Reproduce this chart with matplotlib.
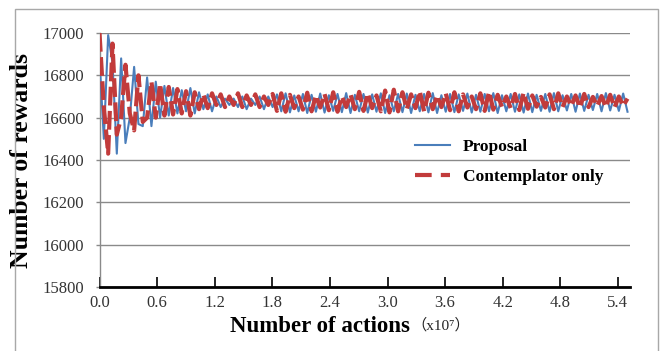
import numpy as np
import matplotlib
matplotlib.use("Agg")
import matplotlib.pyplot as plt
from matplotlib.patches import Rectangle

# ---- data (rewards) ----
proposal = [
    16880, 16500, 16990, 16860, 16430, 16880, 16480, 16600, 16840, 16570, 16560, 16790,
    16560, 16770, 16600, 16750, 16610, 16740, 16620, 16730, 16630, 16740, 16620, 16720, 16640, 16710, 16630,
    16700, 16650, 16690, 16660, 16690, 16650, 16700, 16640, 16690, 16660, 16700, 16640, 16700, 16650,
    16710, 16630, 16715, 16625, 16705, 16630, 16712, 16622, 16708, 16628,
    16714, 16624, 16706, 16632, 16712, 16626, 16716, 16622, 16708, 16630,
    16712, 16624, 16710, 16628, 16715, 16622, 16706, 16630, 16712, 16626,
    16714, 16622, 16708, 16630, 16712, 16625, 16716, 16622, 16706, 16628,
    16712, 16626, 16710, 16632, 16714, 16624, 16708, 16628, 16712, 16630,
    16716, 16622, 16706, 16630, 16712, 16628, 16710, 16624, 16714, 16626,
    16708, 16632, 16712, 16628, 16716, 16630, 16706, 16634, 16712, 16628,
    16714, 16632, 16708, 16636, 16712, 16630, 16716, 16634, 16708, 16632,
    16714, 16628,
]
contemplator = [
    17000, 16650, 16430, 16950, 16520, 16600, 16850, 16620, 16540, 16800, 16580, 16600,
    16770, 16600, 16760, 16610, 16745, 16615, 16735, 16620, 16725, 16610, 16720, 16640, 16710, 16645, 16715,
    16660, 16710, 16650, 16700, 16660, 16715, 16650, 16705, 16660, 16710, 16650, 16700, 16660, 16712,
    16632, 16715, 16628, 16708, 16645, 16700, 16638, 16718, 16630, 16705,
    16648, 16712, 16635, 16720, 16628, 16700, 16650, 16710, 16640, 16722,
    16632, 16715, 16645, 16705, 16630, 16728, 16625, 16732, 16630, 16720,
    16640, 16710, 16645, 16725, 16630, 16718, 16640, 16705, 16650, 16715,
    16635, 16720, 16630, 16710, 16648, 16700, 16640, 16715, 16632, 16722,
    16638, 16708, 16650, 16700, 16645, 16712, 16636, 16718, 16642, 16705,
    16652, 16698, 16648, 16710, 16640, 16715, 16650, 16700, 16655, 16705,
    16648, 16712, 16650, 16698, 16655, 16702, 16650, 16708, 16648, 16700,
    16655, 16690,
]
x_end = 5.50  # last sample, x10^7 actions
x_ticks = [0.0, 0.6, 1.2, 1.8, 2.4, 3.0, 3.6, 4.2, 4.8, 5.4]
x_tick_labels = ["0.0", "0.6", "1.2", "1.8", "2.4", "3.0", "3.6", "4.2", "4.8", "5.4"]
y_ticks = [15800, 16000, 16200, 16400, 16600, 16800, 17000]
series_names = ["Proposal", "Contemplator only"]

actions_p = np.linspace(0, x_end, len(proposal))
actions_c = np.linspace(0, x_end, len(contemplator))

serif = ["Liberation Serif", "DejaVu Serif"]

fig = plt.figure(figsize=(6.65, 3.51), dpi=100)
W, H = 665, 351
ax = fig.add_axes([99.5 / W, 1 - 287 / H, (630 - 99.5) / W, (287 - 33) / H])

blue = "#4A7EBB"
red = "#C23B3B"
ax.plot(actions_p, proposal, color=blue, lw=1.5, label=series_names[0], zorder=3)
ax.plot(actions_c, contemplator, color=red, lw=3.0, dashes=(4.5, 1.3),
        label=series_names[1], zorder=4)

ax.set_xlim(0, 5.526)
ax.set_ylim(15800, 17000)
ax.set_yticks(y_ticks)
ax.set_yticklabels([str(v) for v in y_ticks], family=serif, fontsize=12, color="#333333")
ax.set_xticks(x_ticks)
ax.set_xticklabels(x_tick_labels, family=serif, fontsize=12, color="#333333")

ax.grid(axis="y", color="#8a8a8a", lw=1.0, zorder=0)
ax.set_axisbelow(True)
for s in ["top", "right"]:
    ax.spines[s].set_visible(False)
ax.spines["left"].set_color("#8a8a8a")
ax.spines["left"].set_linewidth(1.0)
ax.spines["bottom"].set_color("black")
ax.spines["bottom"].set_linewidth(2.0)
ax.tick_params(axis="x", direction="in", length=7, width=1.2, color="black", pad=6)
ax.tick_params(axis="y", direction="out", length=3, width=1.0, color="#8a8a8a", pad=8)

ax.set_ylabel("Number of rewards", family=serif, fontsize=18.5, fontweight="bold", labelpad=7)

fig.text(410 / W, 1 - 327 / H, "Number of actions", family=serif, fontsize=16.5,
         fontweight="bold", ha="right", va="center")
fig.text(411 / W, 1 - 325 / H, "（x10⁷）", family=["Liberation Serif", "Noto Sans CJK SC"],
         fontsize=11, ha="left", va="center", color="#222222")

leg = ax.legend(loc="center left", bbox_to_anchor=(415 / W, 1 - 162 / H),
                bbox_transform=fig.transFigure, frameon=False, borderpad=0,
                borderaxespad=0, handlelength=2.0, handletextpad=0.75,
                labelspacing=0.75, prop={"family": serif, "size": 12.5, "weight": "bold"})
leg.get_lines()[1].set_dashes((4.0, 2.2))

fig.patches.append(Rectangle((15 / W, -0.05), (658 - 15) / W, 1 - 9 / H + 0.05,
                             transform=fig.transFigure, fill=False,
                             edgecolor="#a8a8a8", lw=1.0))

fig.savefig("out.png", dpi=100)
